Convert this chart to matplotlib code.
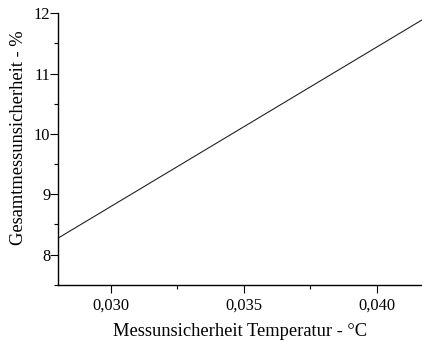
import matplotlib
matplotlib.use("Agg")
import matplotlib.pyplot as plt
from matplotlib.ticker import MultipleLocator, FuncFormatter

x_vals = [0.028, 0.0417]
y_vals = [8.27, 11.89]
x_label = "Messunsicherheit Temperatur - °C"
y_label = "Gesamtmessunsicherheit - %"

plt.rcParams['font.family'] = ['Liberation Serif', 'DejaVu Serif']
fig = plt.figure(figsize=(4.22, 3.41), dpi=100)
ax = fig.add_axes([0.137, 0.165, 0.863, 0.796])
ax.plot(x_vals, y_vals, color='#222222', lw=0.8)
ax.set_xlim(0.028, 0.0417)
ax.set_ylim(7.5, 12)
ax.xaxis.set_major_locator(MultipleLocator(0.005))
ax.xaxis.set_minor_locator(MultipleLocator(0.0025))
ax.yaxis.set_major_locator(MultipleLocator(1))
ax.yaxis.set_minor_locator(MultipleLocator(0.5))
ax.xaxis.set_major_formatter(FuncFormatter(lambda v, p: f"{v:.3f}".replace('.', ',')))
ax.yaxis.set_major_formatter(FuncFormatter(lambda v, p: f"{v:.0f}"))
for s in ['top', 'right']:
    ax.spines[s].set_visible(False)
for s in ['left', 'bottom']:
    ax.spines[s].set_linewidth(1.0)
ax.tick_params(which='major', direction='out', length=6, width=0.8, labelsize=11.8, pad=-0.5)
ax.tick_params(axis='x', which='major', pad=3)
ax.tick_params(which='minor', direction='out', length=3, width=0.8)
ax.set_xlabel(x_label, fontsize=13.3, labelpad=7)
ax.set_ylabel(y_label, fontsize=13.3)
ax.yaxis.set_label_coords(-0.085, 0.542)
fig.savefig("out.png", dpi=100)
